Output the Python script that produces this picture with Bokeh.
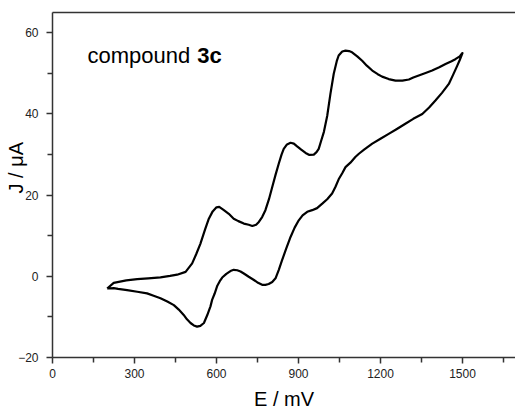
from bokeh.plotting import figure
from bokeh.models import LinearAxis, FixedTicker, Label, Range1d, Title
from bokeh.embed import file_html
from bokeh.resources import INLINE

# ---- data ----
E_forward = [200, 224, 270, 310, 350, 395, 430, 456, 487, 511, 526, 541, 558, 572, 586, 600,
             610, 627, 645, 663, 680, 700, 718, 731, 745, 755, 767, 779, 792, 804, 816, 828,
             838, 846, 858, 871, 883, 895, 910, 926, 940, 956, 966, 974, 983, 993, 1005, 1017,
             1029, 1040, 1047, 1060, 1072, 1085, 1096, 1115, 1133, 1150, 1170, 1190, 1206, 1230,
             1255, 1280, 1304, 1320, 1340, 1365, 1389, 1415, 1438, 1460, 1474, 1490, 1499]
J_forward = [-3.0, -1.6, -1.0, -0.7, -0.5, -0.25, 0.1, 0.4, 1.1, 3.2, 5.5, 8.0, 11.5, 14.2, 16.0, 17.0,
             17.1, 16.3, 15.4, 14.2, 13.6, 13.0, 12.7, 12.4, 12.7, 13.4, 14.6, 16.3, 19.0, 22.0, 25.0, 27.8,
             30.0, 31.4, 32.5, 32.9, 32.7, 32.0, 31.2, 30.4, 29.9, 30.0, 30.6, 31.4, 33.4, 35.6, 39.5, 45.0,
             49.9, 53.0, 54.4, 55.4, 55.6, 55.5, 55.2, 54.2, 53.1, 51.9, 50.7, 49.8, 49.2, 48.6,
             48.2, 48.2, 48.5, 49.0, 49.5, 50.1, 50.7, 51.5, 52.3, 53.0, 53.5, 54.2, 55.0]

E_reverse = [1500, 1490, 1481, 1466, 1450, 1425, 1401, 1378, 1353, 1320, 1291, 1260, 1230, 1200, 1170,
             1140, 1121, 1108, 1090, 1072, 1060, 1047, 1035, 1023, 1005, 987, 968, 950, 932, 915, 901,
             886, 871, 855, 840, 828, 816, 804, 791, 779, 767, 752, 737, 718, 700, 688, 676, 663, 651,
             636, 621, 612, 603, 593, 584, 578, 566, 554, 541, 529, 517, 505, 492, 480, 462, 444, 420,
             395, 370, 346, 310, 273, 240, 224, 200]
J_reverse = [55.0, 53.3, 51.9, 49.7, 47.4, 45.2, 43.3, 41.6, 40.0, 38.8, 37.6, 36.3, 35.1, 33.9, 32.7,
             31.2, 30.2, 29.4, 28.0, 26.9, 25.4, 23.9, 22.0, 20.4, 19.0, 17.9, 16.8, 16.3, 15.9, 15.0, 13.8,
             12.0, 9.7, 6.8, 4.0, 1.6, -0.5, -1.4, -1.9, -2.1, -2.1, -1.6, -0.9, -0.1, 0.7, 1.2, 1.5, 1.6, 1.3,
             0.6, -0.3, -1.2, -2.3, -4.3, -5.8, -7.4, -9.6, -11.5, -12.2, -12.4, -12.1, -11.5, -10.6, -9.5, -8.2, -7.1, -6.2,
             -5.4, -4.8, -4.2, -3.8, -3.4, -3.1, -2.9, -3.0]

x_ticks = [0, 300, 600, 900, 1200, 1500]
y_ticks = [-20, 0, 20, 40, 60]
x_label = "E / mV"
y_label = "J / \u03bcA"
annotation_plain = "compound "
annotation_bold = "3c"

FONT = "Liberation Sans"
AXIS_COLOR = "#333333"

x_minor = [t + 150 for t in x_ticks]
y_minor = [t + 10 for t in y_ticks[:-1]] + [y_ticks[-1] + 10]

p = figure(width=515, height=412, output_backend="svg", toolbar_location=None,
           x_range=Range1d(0, 1694), y_range=Range1d(-20, 65),
           x_axis_location=None, y_axis_location=None,
           min_border_left=52, min_border_right=0, min_border_top=12, min_border_bottom=54)
p.outline_line_color = None
p.xgrid.visible = False
p.ygrid.visible = False
p.background_fill_color = "white"
p.border_fill_color = "white"

def style_axis(ax, standoff):
    ax.axis_line_color = AXIS_COLOR
    ax.axis_line_width = 1.5
    ax.major_tick_line_color = AXIS_COLOR
    ax.minor_tick_line_color = AXIS_COLOR
    ax.major_tick_line_width = 1.5
    ax.minor_tick_line_width = 1.5
    ax.major_tick_in = 0
    ax.major_tick_out = 6
    ax.minor_tick_in = 0
    ax.minor_tick_out = 5
    ax.major_label_text_font = FONT
    ax.major_label_text_font_size = "12px"
    ax.major_label_text_color = "#222222"
    ax.major_label_standoff = standoff

xaxis = LinearAxis(ticker=FixedTicker(ticks=x_ticks, minor_ticks=x_minor))
style_axis(xaxis, 5)
xaxis.axis_label = x_label
xaxis.axis_label_text_font = FONT
xaxis.axis_label_text_font_size = "20px"
xaxis.axis_label_text_font_style = "normal"
xaxis.axis_label_text_color = "black"
xaxis.axis_label_standoff = 7
p.add_layout(xaxis, "below")

yaxis = LinearAxis(ticker=FixedTicker(ticks=y_ticks, minor_ticks=y_minor))
style_axis(yaxis, 8)
p.add_layout(yaxis, "left")

ytitle = Title(text=y_label, align="left", offset=164, standoff=-22,
               text_font=FONT, text_font_size="20px", text_font_style="normal",
               text_color="black")
p.add_layout(ytitle, "left")

top = LinearAxis(ticker=FixedTicker(ticks=[]))
top.axis_line_color = AXIS_COLOR
top.axis_line_width = 1.5
top.major_tick_out = 0
top.minor_tick_out = 0
top.major_label_text_font_size = "0px"
p.add_layout(top, "above")

p.line(E_forward + E_reverse, J_forward + J_reverse, line_color="black",
       line_width=2.2, line_join="round")

p.add_layout(Label(x=128, y=54.5, text=annotation_plain, text_font=FONT,
                   text_font_size="22px", text_align="left", text_baseline="alphabetic",
                   text_color="black"))
p.add_layout(Label(x=530, y=54.5, text=annotation_bold, text_font=FONT,
                   text_font_size="22px", text_font_style="bold", text_align="left",
                   text_baseline="alphabetic", text_color="black"))

open("out.html", "w").write(file_html(p, INLINE))
